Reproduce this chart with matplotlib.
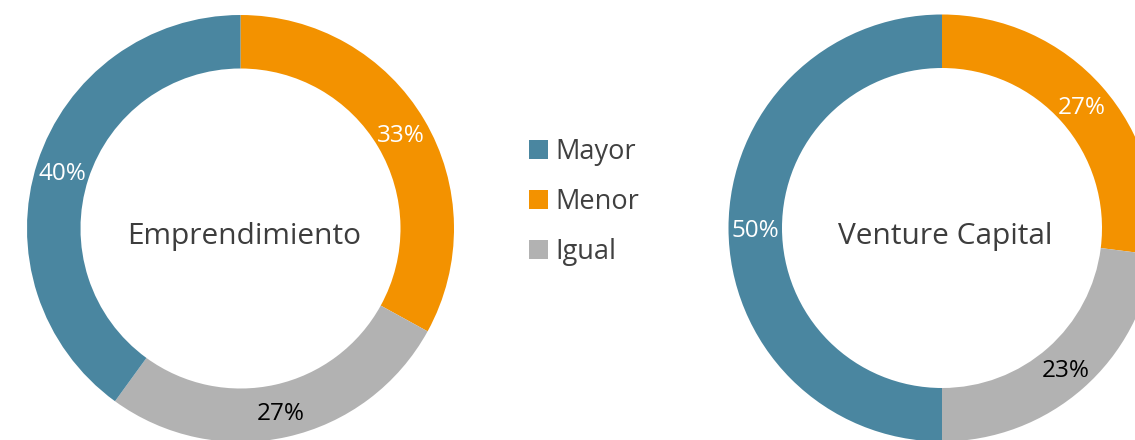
import matplotlib
matplotlib.use("Agg")
import matplotlib.pyplot as plt

# Data
categories = ["Menor", "Igual", "Mayor"]
legend_order = ["Mayor", "Menor", "Igual"]
emprendimiento = [33, 27, 40]
venture_capital = [27, 23, 50]
titles = ["Emprendimiento", "Venture Capital"]
colors = {"Mayor": "#4A86A0", "Menor": "#F39200", "Igual": "#B2B2B2"}
label_colors = {"Mayor": "white", "Menor": "white", "Igual": "black"}

plt.rcParams['font.family'] = ['Open Sans', 'DejaVu Sans']

W, H = 1135, 440
fig = plt.figure(figsize=(W / 100, H / 100), dpi=100)
ax = fig.add_axes([0, 0, 1, 1])

R = 213.5
ring = 53.5
centers = [(240.5, H - 228.5), (942.0, H - 228.0)]
title_pos = [(244.5, H - 243.5), (945.0, H - 243.5)]

wedge_sets = []
for vals, (cx, cy), title, (tx, ty) in zip([emprendimiento, venture_capital], centers, titles, title_pos):
    wedges, texts, autotexts = ax.pie(
        vals, colors=[colors[c] for c in categories], startangle=90, counterclock=False,
        center=(cx, cy), radius=R, wedgeprops=dict(width=ring, linewidth=0),
        autopct=lambda p: f"{p:.0f}%", pctdistance=1 - (ring / 2) / R,
        textprops=dict(fontsize=17.5),
    )
    for at, c in zip(autotexts, categories):
        at.set_color(label_colors[c])
        at.set_va("center_baseline")
    ax.text(tx, ty, title, ha="center", va="baseline", fontsize=21.5, color="#3d3d3d")
    wedge_sets.append(wedges)

ax.set_xlim(0, W)
ax.set_ylim(0, H)
ax.set_aspect("equal")
ax.axis("off")

handles = [wedge_sets[0][categories.index(c)] for c in legend_order]
leg = ax.legend(handles, legend_order, loc="upper left",
                bbox_to_anchor=(529 / W, 1 - 138 / H), bbox_transform=ax.transAxes,
                frameon=False, fontsize=19.5, handlelength=0.70, handleheight=0.70,
                handletextpad=0.28, labelspacing=0.81, borderpad=0, borderaxespad=0)
for t in leg.get_texts():
    t.set_color("#404040")

fig.savefig("out.png", dpi=100)
